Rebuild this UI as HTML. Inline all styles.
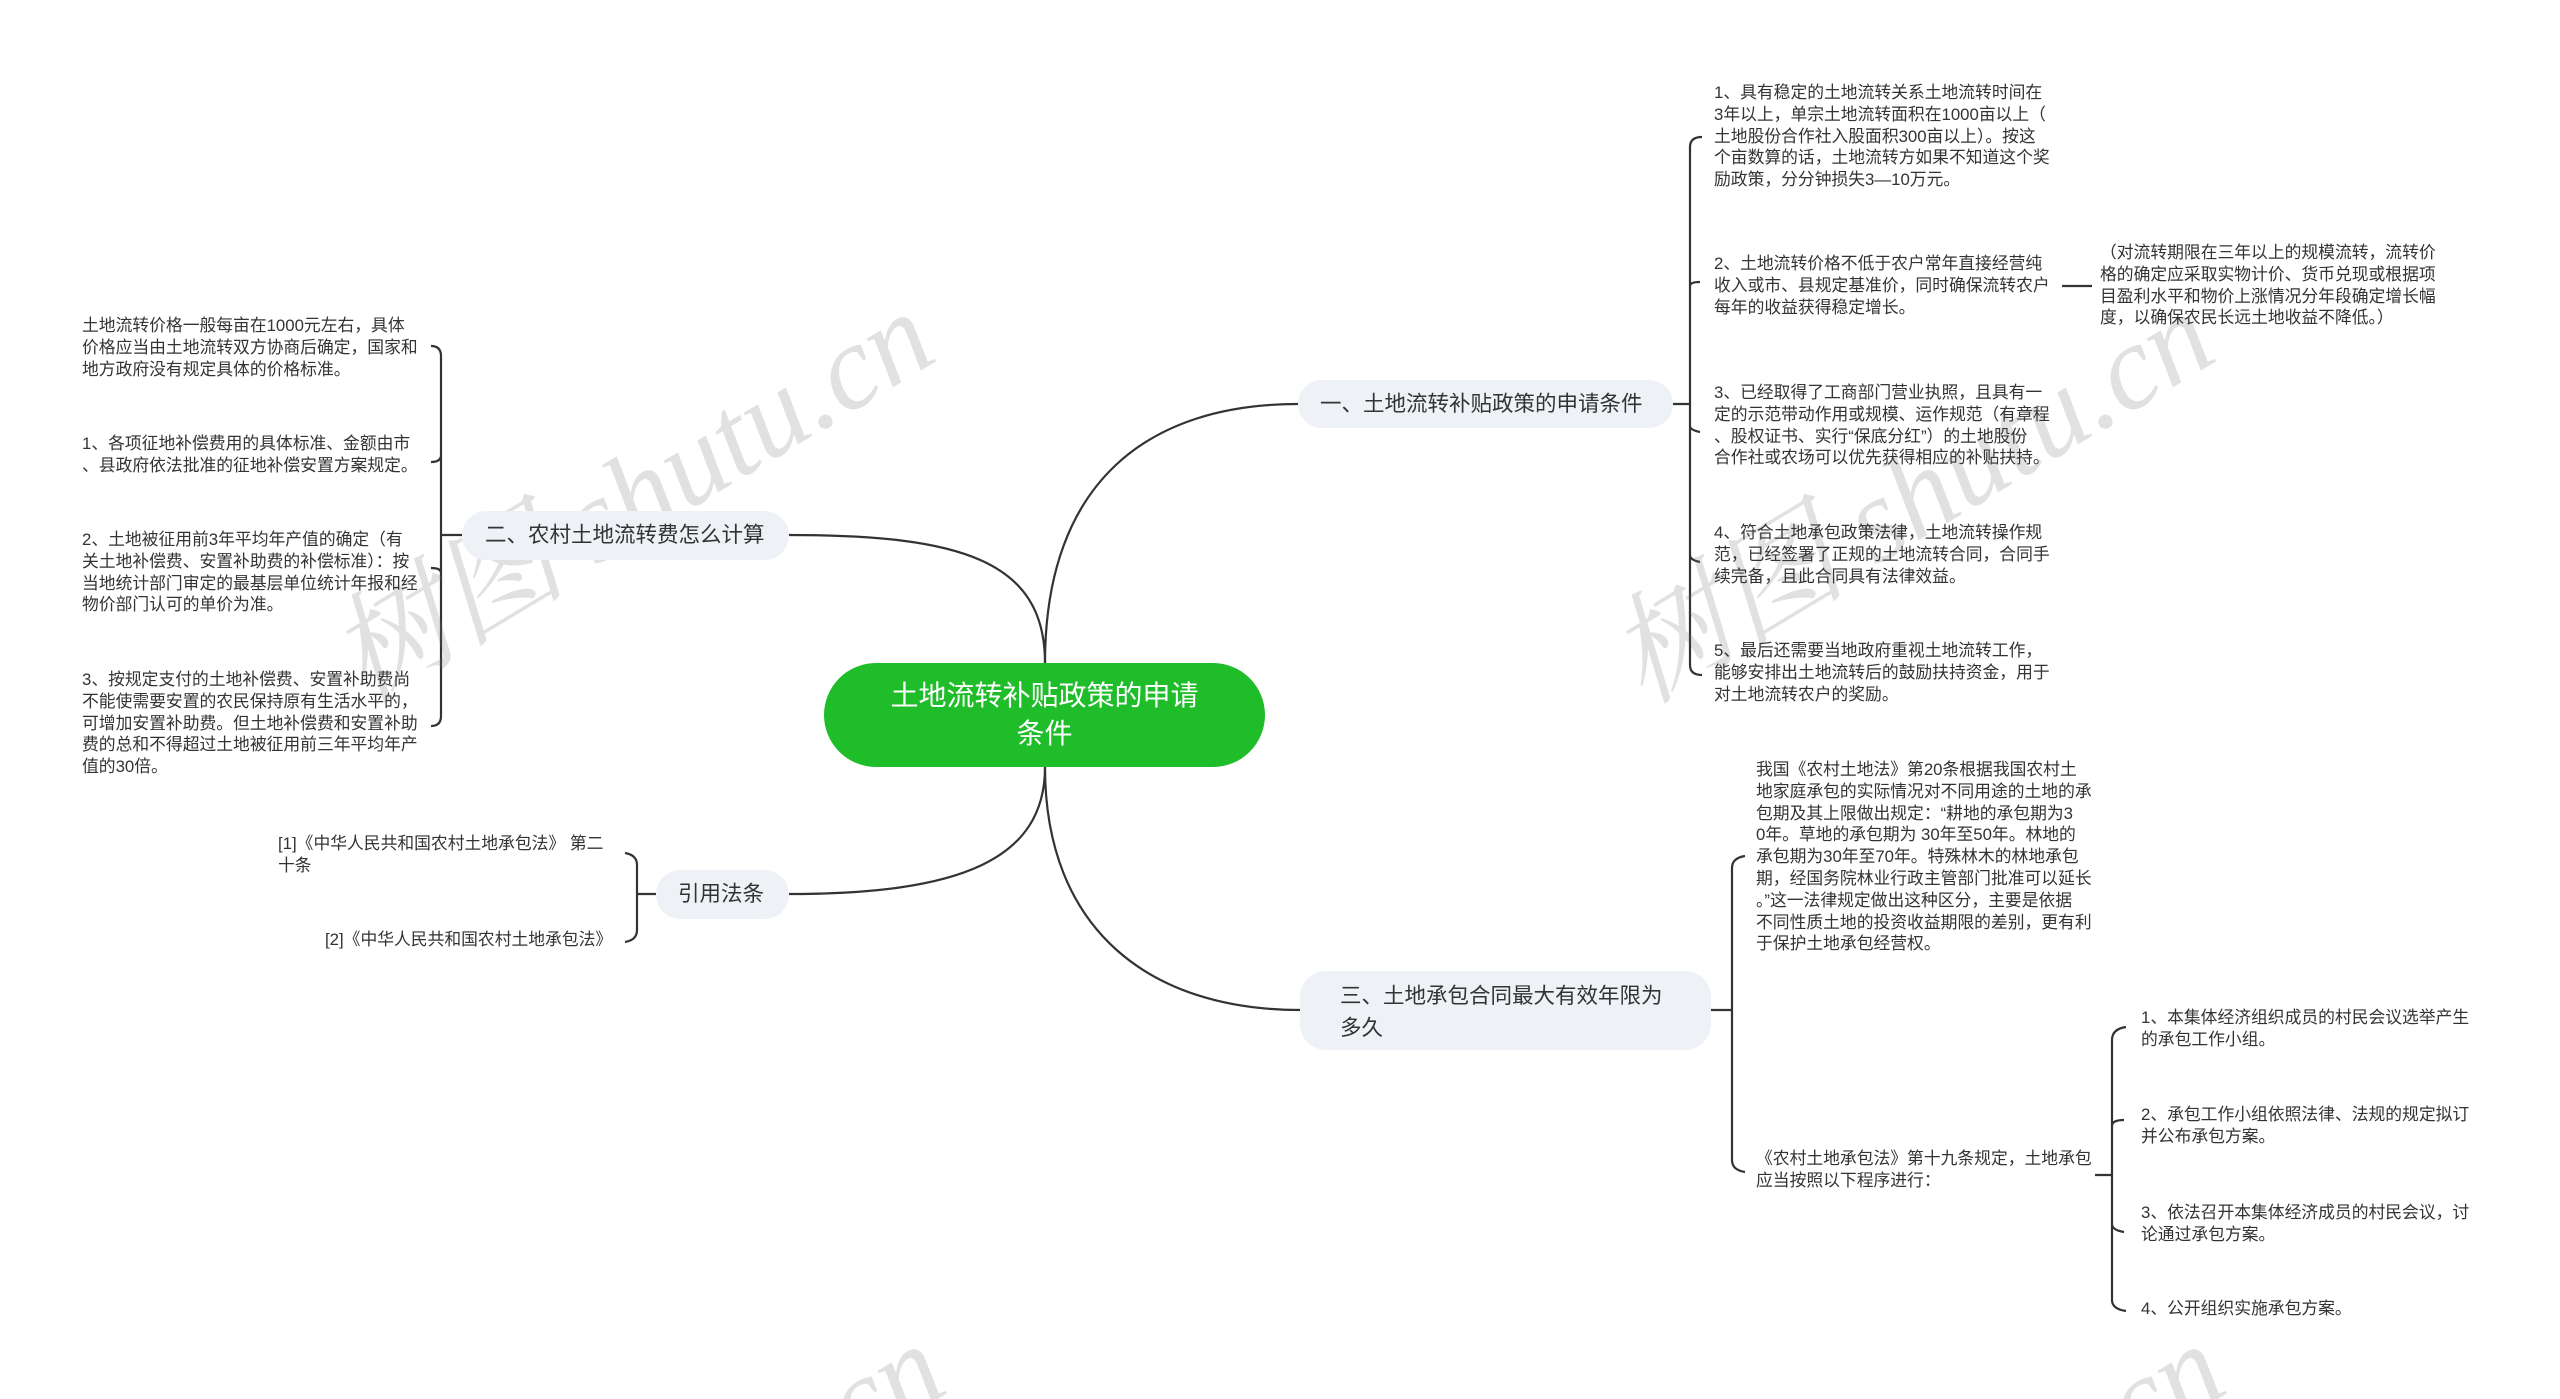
<!DOCTYPE html>
<html><head><meta charset="utf-8"><style>
html,body{margin:0;padding:0;background:#fff;width:2560px;height:1399px;overflow:hidden;}
#root{width:2560px;height:1399px;position:relative;overflow:hidden;font-family:"Liberation Sans","Noto Sans CJK SC",sans-serif;}
.t{position:absolute;font-size:16.8px;line-height:21.8px;color:#333;white-space:nowrap;}
.b{position:absolute;background:#eef1f5;border-radius:26px;color:#333;font-size:21.5px;box-sizing:border-box;white-space:nowrap;}
.wm{position:absolute;color:rgba(120,120,120,0.22);font-family:"Liberation Serif","Noto Serif CJK SC",serif;font-style:italic;font-size:120px;transform:rotate(-31deg);transform-origin:left top;white-space:nowrap;}
svg{position:absolute;left:0;top:0;}
</style></head><body><div id="root">
<svg width="2560" height="1399" fill="none" stroke="#333" stroke-width="2.2">
<path d="M1045 663 C1045 480 1150 404 1298 404"/>
<path d="M1045 663 C1045 560 960 535 789 535"/>
<path d="M1045 767 C1045 860 960 894 789 894"/>
<path d="M1045 767 C1045 930 1150 1010 1300 1010"/>
<path d="M1673 404 H1690 M1690 147 V665 M1690 147 Q1690 137 1702 137 M1690 665 Q1690 675 1702 675 M1690 286 Q1690 282 1700 282 M1690 426 Q1690 430 1700 432 M1690 555 Q1690 560 1700 562"/>
<path d="M2062 286 H2092"/>
<path d="M462 535 H441 M441 356 V716 M441 356 Q441 346 431 346 M441 716 Q441 726 431 726 M441 455 Q441 462 431 462 M441 573 Q441 568 431 568"/>
<path d="M656 894 H637 M637 865 V930 M637 865 Q637 855 625 853 M637 930 Q637 940 625 942"/>
<path d="M1711 1010 H1732 M1732 868 V1160 M1732 868 Q1732 858 1745 856 M1732 1160 Q1732 1170 1745 1172"/>
<path d="M2095 1175 H2112 M2112 1040 V1300 M2112 1040 Q2112 1029 2126 1027 M2112 1300 Q2112 1309 2126 1311 M2112 1126 Q2112 1120 2124 1120 M2112 1224 Q2112 1230 2124 1232"/>
</svg>

<div class="wm" style="left:293px;top:588px;">树图 shutu.cn</div>
<div class="wm" style="left:1573px;top:588px;">树图 shutu.cn</div>
<div class="wm" style="left:304px;top:1620px;">树图 shutu.cn</div>
<div class="wm" style="left:1584px;top:1620px;">树图 shutu.cn</div>

<div style="position:absolute;left:824px;top:663px;width:441px;height:104px;background:#1fbd2a;border-radius:52px;color:#fff;font-size:28px;line-height:38px;text-align:center;padding-top:14px;box-sizing:border-box;">土地流转补贴政策的申请<br>条件</div>

<div class="b" style="left:1298px;top:380px;width:375px;height:48px;line-height:48px;padding-left:22px;">一、土地流转补贴政策的申请条件</div>
<div class="b" style="left:462px;top:511px;width:327px;height:49px;line-height:49px;padding-left:23px;">二、农村土地流转费怎么计算</div>
<div class="b" style="left:656px;top:870px;width:133px;height:49px;line-height:49px;padding-left:22px;">引用法条</div>
<div class="b" style="left:1300px;top:971px;width:411px;height:79px;line-height:32px;padding:9px 0 0 40px;">三、土地承包合同最大有效年限为<br>多久</div>

<div class="t" style="left:1714px;top:82px;">1、具有稳定的土地流转关系土地流转时间在<br>3年以上，单宗土地流转面积在1000亩以上（<br>土地股份合作社入股面积300亩以上）。按这<br>个亩数算的话，土地流转方如果不知道这个奖<br>励政策，分分钟损失3—10万元。</div>
<div class="t" style="left:1714px;top:253px;">2、土地流转价格不低于农户常年直接经营纯<br>收入或市、县规定基准价，同时确保流转农户<br>每年的收益获得稳定增长。</div>
<div class="t" style="left:2100px;top:242px;">（对流转期限在三年以上的规模流转，流转价<br>格的确定应采取实物计价、货币兑现或根据项<br>目盈利水平和物价上涨情况分年段确定增长幅<br>度，以确保农民长远土地收益不降低。）</div>
<div class="t" style="left:1714px;top:382px;">3、已经取得了工商部门营业执照，且具有一<br>定的示范带动作用或规模、运作规范（有章程<br>、股权证书、实行“保底分红”）的土地股份<br>合作社或农场可以优先获得相应的补贴扶持。</div>
<div class="t" style="left:1714px;top:522px;">4、符合土地承包政策法律，土地流转操作规<br>范，已经签署了正规的土地流转合同，合同手<br>续完备，且此合同具有法律效益。</div>
<div class="t" style="left:1714px;top:640px;">5、最后还需要当地政府重视土地流转工作，<br>能够安排出土地流转后的鼓励扶持资金，用于<br>对土地流转农户的奖励。</div>

<div class="t" style="left:82px;top:315px;">土地流转价格一般每亩在1000元左右，具体<br>价格应当由土地流转双方协商后确定，国家和<br>地方政府没有规定具体的价格标准。</div>
<div class="t" style="left:82px;top:433px;">1、各项征地补偿费用的具体标准、金额由市<br>、县政府依法批准的征地补偿安置方案规定。</div>
<div class="t" style="left:82px;top:529px;">2、土地被征用前3年平均年产值的确定（有<br>关土地补偿费、安置补助费的补偿标准）：按<br>当地统计部门审定的最基层单位统计年报和经<br>物价部门认可的单价为准。</div>
<div class="t" style="left:82px;top:669px;">3、按规定支付的土地补偿费、安置补助费尚<br>不能使需要安置的农民保持原有生活水平的，<br>可增加安置补助费。但土地补偿费和安置补助<br>费的总和不得超过土地被征用前三年平均年产<br>值的30倍。</div>

<div class="t" style="left:278px;top:833px;">[1]《中华人民共和国农村土地承包法》 第二<br>十条</div>
<div class="t" style="left:325px;top:929px;">[2]《中华人民共和国农村土地承包法》</div>

<div class="t" style="left:1756px;top:759px;">我国《农村土地法》第20条根据我国农村土<br>地家庭承包的实际情况对不同用途的土地的承<br>包期及其上限做出规定：“耕地的承包期为3<br>0年。草地的承包期为 30年至50年。林地的<br>承包期为30年至70年。特殊林木的林地承包<br>期，经国务院林业行政主管部门批准可以延长<br>。”这一法律规定做出这种区分，主要是依据<br>不同性质土地的投资收益期限的差别，更有利<br>于保护土地承包经营权。</div>
<div class="t" style="left:1756px;top:1148px;">《农村土地承包法》第十九条规定，土地承包<br>应当按照以下程序进行：</div>

<div class="t" style="left:2141px;top:1007px;">1、本集体经济组织成员的村民会议选举产生<br>的承包工作小组。</div>
<div class="t" style="left:2141px;top:1104px;">2、承包工作小组依照法律、法规的规定拟订<br>并公布承包方案。</div>
<div class="t" style="left:2141px;top:1202px;">3、依法召开本集体经济成员的村民会议，讨<br>论通过承包方案。</div>
<div class="t" style="left:2141px;top:1298px;">4、公开组织实施承包方案。</div>
</div></body></html>
